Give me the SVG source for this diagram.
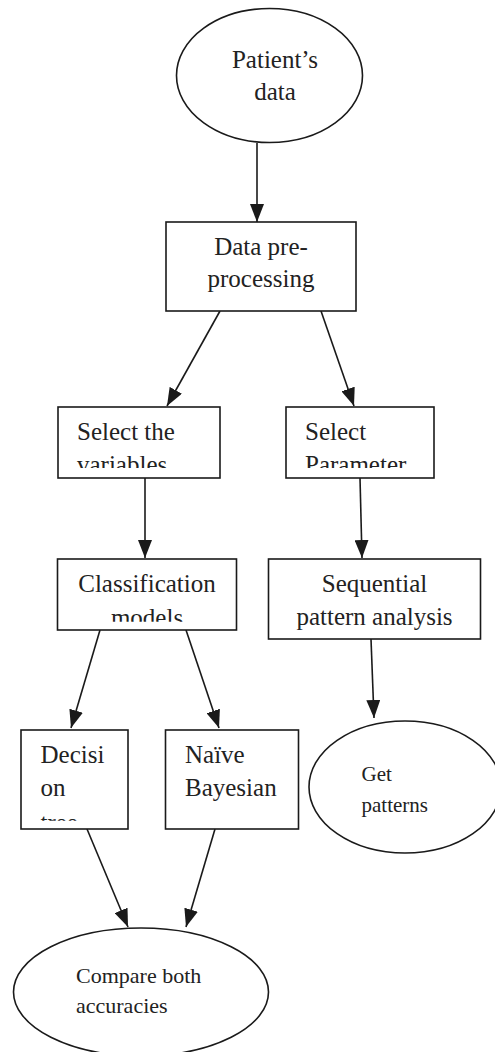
<svg xmlns="http://www.w3.org/2000/svg" width="495" height="1052" viewBox="0 0 495 1052">
<style>
.shape{fill:#fff;stroke:#1a1a1a;stroke-width:1.6}
.t{font-family:"Liberation Serif","Times New Roman",serif;font-size:25px;fill:#222}
.ts{font-size:21px}
.tm{font-size:22px}
.c{text-anchor:middle}
.edge{stroke:#1a1a1a;stroke-width:1.6;fill:none;marker-end:url(#ah)}
</style>
<defs>
<marker id="ah" viewBox="0 0 18 14" refX="18" refY="7" markerWidth="18" markerHeight="14" markerUnits="userSpaceOnUse" orient="auto">
<path d="M0,0 L18,7 L0,14 z" fill="#1a1a1a"/>
</marker>
<clipPath id="cSel"><rect x="0" y="400" width="495" height="68"/></clipPath>
<clipPath id="cCls"><rect x="0" y="555" width="260" height="66.7"/></clipPath>
<clipPath id="cDec"><rect x="0" y="730" width="140" height="90.7"/></clipPath>
</defs>
<rect width="495" height="1052" fill="#fff"/>

<g id="connectors">
<line class="edge" x1="257" y1="143" x2="257" y2="222"/>
<line class="edge" x1="220" y1="311" x2="167" y2="406"/>
<line class="edge" x1="321" y1="311" x2="354" y2="406"/>
<line class="edge" x1="145" y1="478" x2="145" y2="558"/>
<line class="edge" x1="360" y1="478" x2="362" y2="558"/>
<line class="edge" x1="100" y1="630" x2="71" y2="728"/>
<line class="edge" x1="186" y1="630" x2="219" y2="728"/>
<line class="edge" x1="371" y1="639" x2="374" y2="718"/>
<line class="edge" x1="87" y1="829" x2="128" y2="927"/>
<line class="edge" x1="215" y1="829" x2="186" y2="927"/>
</g>

<g id="patients-data">
<ellipse class="shape" cx="269.5" cy="75.5" rx="93" ry="67"/>
<text class="t c" x="275" y="68">Patient’s</text>
<text class="t c" x="275" y="100">data</text>
</g>

<g id="data-preprocessing">
<rect class="shape" x="166" y="222" width="190" height="89"/>
<text class="t c" x="261" y="255">Data pre-</text>
<text class="t c" x="261" y="287">processing</text>
</g>

<g id="select-variables">
<rect class="shape" x="58" y="407" width="162" height="71"/>
<g clip-path="url(#cSel)">
<text class="t" x="77" y="440">Select the</text>
<text class="t" x="77" y="472.5">variables</text>
</g>
</g>

<g id="select-parameter">
<rect class="shape" x="286" y="407" width="148" height="71"/>
<g clip-path="url(#cSel)">
<text class="t" x="305" y="440">Select</text>
<text class="t" x="305" y="472.5">Parameter</text>
</g>
</g>

<g id="classification-models">
<rect class="shape" x="57.5" y="559" width="179" height="71"/>
<g clip-path="url(#cCls)">
<text class="t c" x="147" y="592">Classification</text>
<text class="t c" x="147" y="626">models</text>
</g>
</g>

<g id="sequential-pattern">
<rect class="shape" x="268.5" y="559" width="212" height="80"/>
<text class="t c" x="374.5" y="592">Sequential</text>
<text class="t c" x="374.5" y="625">pattern analysis</text>
</g>

<g id="decision-tree">
<rect class="shape" x="21" y="730" width="107" height="99"/>
<g clip-path="url(#cDec)">
<text class="t" x="40.5" y="763">Decisi</text>
<text class="t" x="40.5" y="796">on</text>
<text class="t" x="40.5" y="831">tree</text>
</g>
</g>

<g id="naive-bayesian">
<rect class="shape" x="165.5" y="730" width="133" height="99"/>
<text class="t" x="185" y="763">Naïve</text>
<text class="t" x="185" y="796">Bayesian</text>
</g>

<g id="get-patterns">
<ellipse class="shape" cx="405" cy="787" rx="96" ry="66"/>
<text class="t ts" x="361.5" y="781">Get</text>
<text class="t ts" x="361.5" y="812">patterns</text>
</g>

<g id="compare-accuracies">
<ellipse class="shape" cx="141" cy="992" rx="127.5" ry="64"/>
<text class="t tm" x="76" y="983">Compare both</text>
<text class="t tm" x="76" y="1013">accuracies</text>
</g>
</svg>
